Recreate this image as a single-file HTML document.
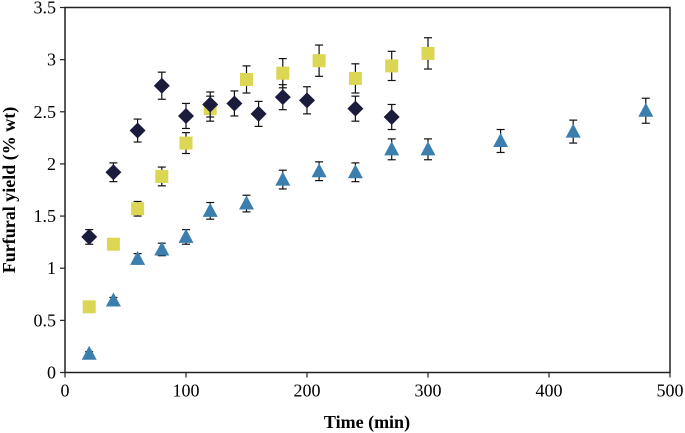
<!DOCTYPE html>
<html><head><meta charset="utf-8">
<style>
html,body{margin:0;padding:0;background:#fff;}
svg{display:block;font-family:"Liberation Serif",serif;}
</style></head>
<body>
<svg id="chart" width="685" height="433" viewBox="0 0 685 433" xmlns="http://www.w3.org/2000/svg">
<rect x="65" y="7.5" width="605" height="365" fill="none" stroke="#222" stroke-width="1.5"/>
<g id="axes"></g>
<g id="marks"></g>
<text x="367" y="428" text-anchor="middle" font-size="18" font-weight="bold">Time (min)</text>
<text transform="translate(15,190) rotate(-90)" text-anchor="middle" font-size="18" font-weight="bold">Furfural yield (% wt)</text>
</svg>
<script>
const xTicks=[0,100,200,300,400,500];
const yTicks=[0,0.5,1,1.5,2,2.5,3,3.5];
const diamondX=[20,40,60,80,100,120,140,160,180,200,240,270];
const diamondY=[1.30,1.92,2.32,2.75,2.46,2.57,2.58,2.48,2.64,2.61,2.53,2.45];
const diamondErr=[0.07,0.09,0.11,0.13,0.12,0.12,0.12,0.12,0.12,0.13,0.12,0.12];
const squareX=[20,40,60,80,100,120,150,180,210,240,270,300];
const squareY=[0.63,1.23,1.57,1.88,2.20,2.53,2.81,2.87,2.99,2.82,2.94,3.06];
const squareErr=[0.02,0.05,0.07,0.09,0.10,0.12,0.13,0.14,0.15,0.14,0.14,0.15];
const triX=[20,40,60,80,100,120,150,180,210,240,270,300,360,420,480];
const triY=[0.18,0.69,1.09,1.18,1.30,1.55,1.62,1.85,1.93,1.92,2.14,2.14,2.22,2.31,2.51];
const triErr=[0.02,0.03,0.05,0.06,0.07,0.08,0.08,0.09,0.09,0.09,0.10,0.10,0.11,0.11,0.12];

const X0=65,X1=670,Y0=372.5,Y1=7.5;
const sx=v=>X0+(v/500)*(X1-X0);
const sy=v=>Y0-(v/3.5)*(Y0-Y1);
const NS="http://www.w3.org/2000/svg";
function mk(tag,attrs,parent){const e=document.createElementNS(NS,tag);for(const k in attrs)e.setAttribute(k,attrs[k]);parent.appendChild(e);return e;}
const axes=document.getElementById('axes'),marks=document.getElementById('marks');
xTicks.forEach(t=>{
  const l=mk('line',{x1:sx(t),x2:sx(t),y1:Y0,y2:Y0+5,stroke:'#222','stroke-width':1.2},axes);
  
  
  const tx=mk('text',{x:sx(t),y:Y0+24,'text-anchor':'middle','font-size':18},axes);
  tx.textContent=t;
  
  
});
yTicks.forEach(t=>{
  const l=mk('line',{x1:X0-5,x2:X0,y1:sy(t),y2:sy(t),stroke:'#222','stroke-width':1.2},axes);
  
  
  const tx=mk('text',{x:X0-9,y:sy(t)+6,'text-anchor':'end','font-size':18},axes);
  tx.textContent=t;
  
  
});
function errbar(x,y,e){
  const cx=sx(x),t=sy(y+e),b=sy(y-e);
  const g=mk('g',{stroke:'#111','stroke-width':1.2},marks);
  
  
  mk('line',{x1:cx,x2:cx,y1:t,y2:b},g);
  mk('line',{x1:cx-4,x2:cx+4,y1:t,y2:t},g);
  mk('line',{x1:cx-4,x2:cx+4,y1:b,y2:b},g);
}
squareX.forEach((x,i)=>{
  errbar(x,squareY[i],squareErr[i]);
  const cx=sx(x),cy=sy(squareY[i]);
  const r=mk('rect',{x:cx-6.5,y:cy-6.5,width:13,height:13,fill:'#dcd655'},marks);
  
  
});
diamondX.forEach((x,i)=>{
  errbar(x,diamondY[i],diamondErr[i]);
  const cx=sx(x),cy=sy(diamondY[i]);
  const p=mk('polygon',{points:`${cx},${cy-8} ${cx+8},${cy} ${cx},${cy+8} ${cx-8},${cy}`,fill:'#1b1c3c'},marks);
  
  
});
triX.forEach((x,i)=>{
  errbar(x,triY[i],triErr[i]);
  const cx=sx(x),cy=sy(triY[i]);
  const p=mk('polygon',{points:`${cx},${cy-8} ${cx+7.5},${cy+6} ${cx-7.5},${cy+6}`,fill:'#3a7fae'},marks);
  
  
});
</script>
</body></html>
